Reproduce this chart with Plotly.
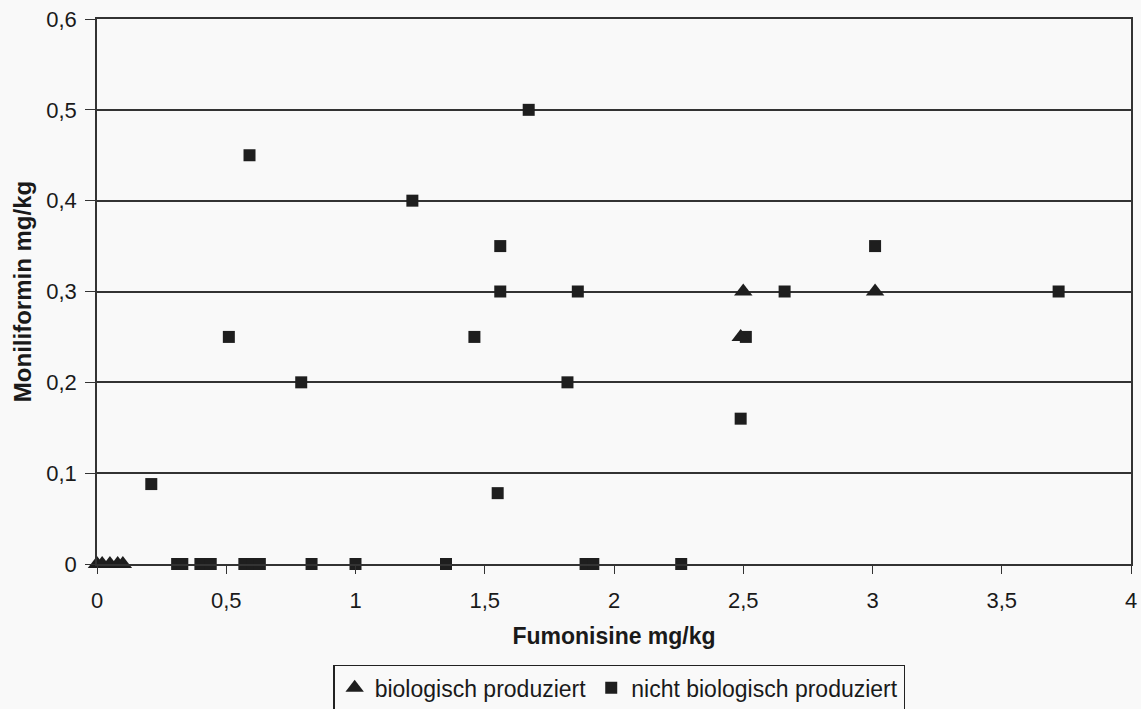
import plotly.graph_objects as go

# biologisch produziert (triangles)
bio_x = [0.0, 0.02, 0.05, 0.08, 0.10, 2.49, 2.50, 3.01]
bio_y = [0.0, 0.0, 0.0, 0.0, 0.0, 0.25, 0.30, 0.30]

# nicht biologisch produziert (squares)
nbio_x = [0.21, 0.31, 0.33, 0.40, 0.44, 0.57, 0.60, 0.63, 0.83, 1.00, 1.35,
          1.89, 1.92, 2.26, 1.55, 2.49, 0.51, 0.79, 1.82, 1.46, 2.51,
          1.56, 1.86, 2.66, 3.72, 1.56, 3.01, 1.22, 0.59, 1.67]
nbio_y = [0.088, 0.0, 0.0, 0.0, 0.0, 0.0, 0.0, 0.0, 0.0, 0.0, 0.0,
          0.0, 0.0, 0.0, 0.078, 0.16, 0.25, 0.20, 0.20, 0.25, 0.25,
          0.30, 0.30, 0.30, 0.30, 0.35, 0.35, 0.40, 0.45, 0.50]

x_ticks = [0, 0.5, 1, 1.5, 2, 2.5, 3, 3.5, 4]
x_labels = ["0", "0,5", "1", "1,5", "2", "2,5", "3", "3,5", "4"]
y_ticks = [0, 0.1, 0.2, 0.3, 0.4, 0.5, 0.6]
y_labels = ["0", "0,1", "0,2", "0,3", "0,4", "0,5", "0,6"]

font_family = "Liberation Sans, Arial, sans-serif"

fig = go.Figure()
fig.add_trace(go.Scatter(
    x=nbio_x, y=nbio_y, mode="markers", name="nicht biologisch produziert",
    marker=dict(symbol="square", size=12, color="#1e1e1e"), cliponaxis=False))
fig.add_trace(go.Scatter(
    x=bio_x, y=bio_y, mode="markers", name="biologisch produziert",
    marker=dict(symbol="triangle-up", size=16, color="#1e1e1e"), cliponaxis=False))

fig.update_layout(
    width=1141, height=709,
    margin=dict(l=97, r=10, t=19, b=145, autoexpand=False),
    paper_bgcolor="#f9f9f9", plot_bgcolor="#f9f9f9",
    font=dict(family=font_family, size=22, color="#1a1a1a"),
    showlegend=True,
    legend=dict(orientation="h", x=0.505, xanchor="center", y=-0.185, yanchor="top",
                bordercolor="#222", borderwidth=1.5, bgcolor="#f9f9f9",
                traceorder="reversed", font=dict(size=23), itemwidth=30,
                tracegroupgap=0),
    xaxis=dict(range=[0, 4], tickvals=x_ticks, ticktext=x_labels,
               ticks="outside", ticklen=8, tickcolor="#333", automargin=False,
               showgrid=False, zeroline=False,
               showline=True, linecolor="#333", linewidth=1.5, mirror=True,
               ticklabelstandoff=8,
               title=dict(text="<b>Fumonisine mg/kg</b>", standoff=16,
                          font=dict(size=23))),
    yaxis=dict(range=[0, 0.6], tickvals=y_ticks, ticktext=y_labels,
               ticks="outside", ticklen=10, tickcolor="#333", automargin=False,
               showgrid=True, gridcolor="#333", gridwidth=1.5,
               zeroline=False, showline=True, linecolor="#333", linewidth=1.5,
               mirror=True, ticklabelstandoff=4,
               title=dict(text="<b>Moniliformin mg/kg</b>", standoff=8,
                          font=dict(size=24))),
)

fig.write_html("out.html")
